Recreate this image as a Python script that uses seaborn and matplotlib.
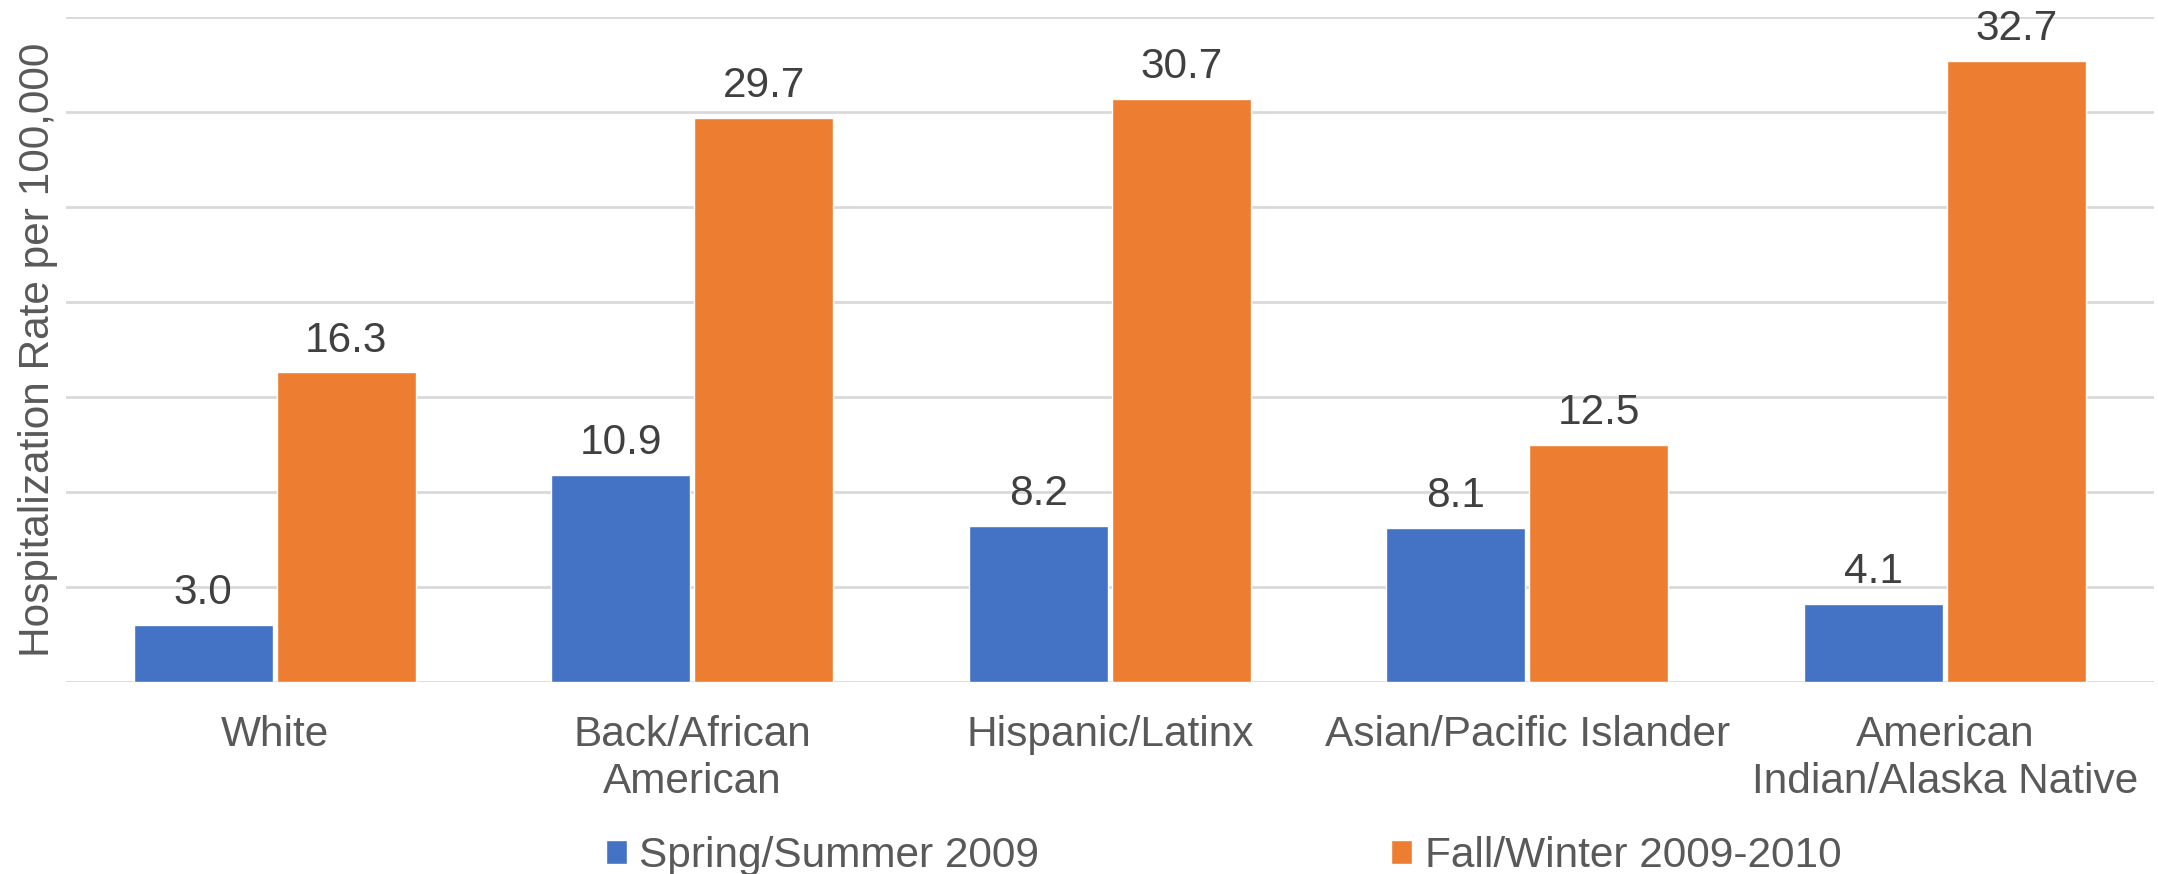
import numpy as np
import pandas as pd
import matplotlib
matplotlib.use("Agg")
import matplotlib.pyplot as plt
import seaborn as sns

groups = ["White", "Back/African\nAmerican", "Hispanic/Latinx",
          "Asian/Pacific Islander", "American\nIndian/Alaska Native"]
seasons = ["Spring/Summer 2009", "Fall/Winter 2009-2010"]
spring = [3.0, 10.9, 8.2, 8.1, 4.1]
fall = [16.3, 29.7, 30.7, 12.5, 32.7]
colors = ["#4472C4", "#ED7D31"]

df = pd.DataFrame({
    "group": groups * 2,
    "season": [seasons[0]] * len(groups) + [seasons[1]] * len(groups),
    "rate": spring + fall,
})

sns.set_style("white")
plt.rcParams["font.family"] = ["Liberation Sans", "DejaVu Sans"]
font_size = 30.5
text_color = "#595959"

fig = plt.figure(figsize=(21.58, 8.74), dpi=100)
ax = fig.add_axes([0.0306, 0.2197, 0.9674, 0.7608])

sns.barplot(data=df, x="group", y="rate", hue="season", palette=colors,
            width=0.685, gap=0.028, ax=ax, saturation=1, errorbar=None)

for cont in ax.containers:
    ax.bar_label(cont, fmt="%.1f", padding=8.5, fontsize=font_size, color="#404040")

ax.set_ylim(0, 35)
ax.set_xlim(-0.5, 4.5)
ax.set_yticks(np.arange(0, 36, 5))
ax.set_yticklabels([])
ax.tick_params(axis="y", length=0)
ax.tick_params(axis="x", length=0, pad=24, labelsize=font_size, labelcolor=text_color)
for lbl in ax.get_xticklabels():
    lbl.set_linespacing(1.2)
ax.yaxis.grid(True, color="#d9d9d9", linewidth=2.0)
ax.set_axisbelow(True)
sns.despine(ax=ax, left=True, bottom=True)
ax.set_xlabel("")
ax.set_ylabel("Hospitalization Rate per 100,000", fontsize=font_size, color=text_color, labelpad=2)

handles, labels = ax.get_legend_handles_labels()
ax.legend_.remove()
fig.legend(handles, labels, loc="center", bbox_to_anchor=(0.567, 0.021), ncol=2,
           frameon=False, fontsize=font_size, labelcolor=text_color,
           handlelength=0.5, handleheight=0.5, handletextpad=0.3, columnspacing=8.3)

fig.savefig("out.png", dpi=100)
